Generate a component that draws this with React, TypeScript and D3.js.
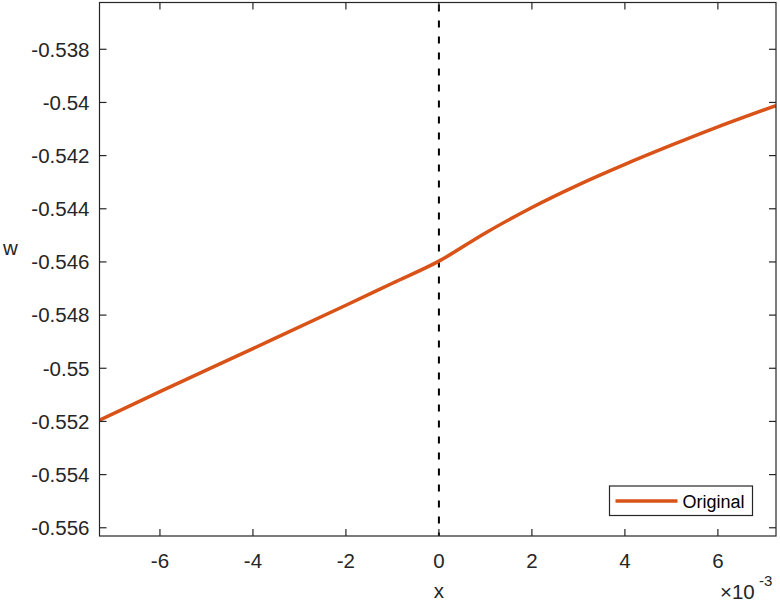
import React from "react";
import * as d3 from "d3";

// x values in units of 1e-3
const xValues = [-7.3, -6, -4, -2, -1, 0, 1, 2, 3, 4, 5, 6, 7.25];
const wValues = [-0.55195, -0.55088, -0.54926, -0.54763, -0.5468, -0.54597, -0.54491, -0.54395, -0.5431, -0.54233, -0.54161, -0.54092, -0.54012];
const xTicks = [-6, -4, -2, 0, 2, 4, 6];
const yTicks = [-0.556, -0.554, -0.552, -0.55, -0.548, -0.546, -0.544, -0.542, -0.54, -0.538];
const refLineX = [0];
const seriesName = "Original";
const xLabel = "x";
const yLabel = "w";

const W = 780, H = 604;
const L = 99.5, R = 776, T = 2.5, B = 536;
const FONT = "'Liberation Sans', Arial, Helvetica, sans-serif";
const AX = "#262626";
const ORANGE = "#D95319";
const FS = 20.5;

export default function App() {
  const x = d3.scaleLinear().domain([-7.3, 7.25]).range([L, R]);
  const y = d3.scaleLinear().domain([-0.55631, -0.53624]).range([B, T]);
  const pts = xValues.map((v, i) => [v, wValues[i]] as [number, number]);
  const line = d3.line<[number, number]>().x(d => x(d[0])).y(d => y(d[1])).curve(d3.curveMonotoneX);
  const tl = 7;
  const fmtY = (v: number) => String(+v.toFixed(3));
  return (
    <svg width={W} height={H} style={{ position: "absolute", left: 0, top: 0, background: "#fff" }} fontFamily={FONT}>
      <rect x={0} y={0} width={W} height={H} fill="#fff" />
      <defs>
        <clipPath id="clip"><rect x={L} y={T} width={R - L} height={B - T} /></clipPath>
      </defs>
      {refLineX.map((v, i) => (
        <line key={i} x1={x(v)} x2={x(v)} y1={T + 2} y2={B} stroke="#000" strokeWidth={2} strokeDasharray="7,9" />
      ))}
      <path d={line(pts) ?? ""} fill="none" stroke={ORANGE} strokeWidth={3.5} clipPath="url(#clip)" />
      <rect x={L} y={T} width={R - L} height={B - T} fill="none" stroke={AX} strokeWidth={1.2} />
      {xTicks.map(t => (
        <g key={"x" + t}>
          <line x1={x(t)} x2={x(t)} y1={B} y2={B - tl} stroke={AX} strokeWidth={1.2} />
          <line x1={x(t)} x2={x(t)} y1={T} y2={T + tl} stroke={AX} strokeWidth={1.2} />
          <text x={x(t)} y={567.5} textAnchor="middle" fontSize={FS} fill={AX}>{t}</text>
        </g>
      ))}
      {yTicks.map(t => (
        <g key={"y" + t}>
          <line x1={L} x2={L + tl} y1={y(t)} y2={y(t)} stroke={AX} strokeWidth={1.2} />
          <line x1={R} x2={R - tl} y1={y(t)} y2={y(t)} stroke={AX} strokeWidth={1.2} />
          <text x={89.5} y={y(t) + 7.3} textAnchor="end" fontSize={FS} fill={AX}>{fmtY(t)}</text>
        </g>
      ))}
      <text x={x(0)} y={598} textAnchor="middle" fontSize={FS} fill={AX}>{xLabel}</text>
      <text x={3} y={255} fontSize={FS} fill={AX}>{yLabel}</text>
      <text x={720} y={599} fontSize={FS} fill={AX}>×10</text>
      <text x={759} y={586} fontSize={15} fill={AX}>-3</text>
      <g>
        <rect x={609.5} y={486} width={143} height={29.5} fill="#fff" stroke={AX} strokeWidth={1.2} />
        <line x1={615.5} x2={677.5} y1={501} y2={501} stroke={ORANGE} strokeWidth={3.5} />
        <text x={682.5} y={507.5} fontSize={18} fill="#000">{seriesName}</text>
      </g>
    </svg>
  );
}
